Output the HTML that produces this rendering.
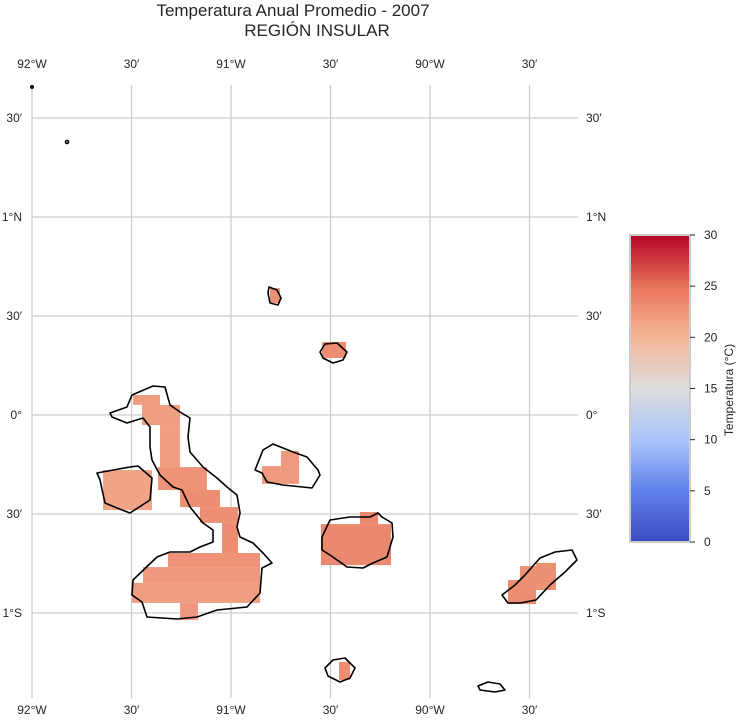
<!DOCTYPE html>
<html><head><meta charset="utf-8"><style>
body{margin:0;background:#fff;font-family:"Liberation Sans",Arial,sans-serif}
svg text{font-family:"Liberation Sans",Arial,sans-serif;fill:#262626}
</style></head><body>
<svg id="chart" width="736" height="716" xmlns="http://www.w3.org/2000/svg">
<defs>
<linearGradient id="cw" x1="0" y1="1" x2="0" y2="0">
<stop offset="0" stop-color="#3b4cc0"/><stop offset="0.17" stop-color="#6282ea"/><stop offset="0.33" stop-color="#a9c5fc"/>
<stop offset="0.5" stop-color="#dddcdc"/><stop offset="0.67" stop-color="#f5b597"/><stop offset="0.83" stop-color="#e7745b"/><stop offset="1" stop-color="#b40426"/>
</linearGradient>
</defs>
<text x="293" y="16" text-anchor="middle" font-size="17">Temperatura Anual Promedio - 2007</text>
<text x="317" y="36" text-anchor="middle" font-size="17">REGIÓN INSULAR</text>
<g id="grid"></g>
<g id="cells"></g>
<g id="coast" fill="none" stroke="#000" stroke-width="1.6" stroke-linejoin="round">
<path d="M132,395 L153,386 L165,387 L170,405 L180,412 L190,418 L188,437 L190,452 L203,467 L217,478 L227,487 L237,495 L240,513 L237,527 L240,537 L253,543 L263,553 L272,563 L262,568 L260,593 L247,607 L217,610 L197,617 L177,619 L147,617 L142,602 L132,595 L133,580 L157,557 L170,552 L190,552 L200,547 L213,542 L213,530 L203,523 L190,507 L182,490 L173,487 L160,475 L152,460 L150,447 L150,427 L143,418 L127,423 L112,417 L110,413 L127,407 Z"/>
<path d="M97,473 L130,467 L138,466 L152,478 L150,500 L130,513 L117,508 L105,503 L100,480 Z"/>
<path d="M255,470 L263,450 L273,444 L293,452 L307,457 L318,470 L320,475 L312,488 L283,485 L267,482 L262,473 Z"/>
<path d="M269,287 L277,290 L281,298 L278,305 L270,303 L268,293 Z"/>
<path d="M320,352 L325,344 L337,343 L347,352 L343,360 L333,363 L323,358 Z"/>
<path d="M322,537 L330,520 L350,517 L370,517 L378,513 L382,517 L392,523 L393,537 L387,557 L373,563 L363,568 L347,567 L340,562 L330,555 L322,550 Z"/>
<path d="M502,595 L515,585 L525,575 L540,558 L555,552 L572,550 L577,560 L565,572 L550,585 L536,600 L520,603 L508,603 Z"/>
<path d="M325,668 L333,660 L345,658 L355,668 L350,678 L340,682 L328,676 Z"/>
<path d="M478,686 L488,682 L500,684 L505,690 L495,692 L480,690 Z"/>
<circle cx="32" cy="87" r="1.2"/>
<circle cx="67" cy="142" r="1.5"/>
</g>
<g id="labels" font-size="12"></g>
<rect x="630" y="235" width="60" height="307" fill="url(#cw)" stroke="#ccc" stroke-width="2"/>
<g id="cbticks" font-size="12"></g>
<text transform="translate(733,390) rotate(-90)" text-anchor="middle" font-size="12">Temperatura (°C)</text>
</svg>
<script>
const lonTicks=[-92,-91.5,-91,-90.5,-90,-89.5];
const lonTickLabels=["92°W","30′","91°W","30′","90°W","30′"];
const latTicks=[1.5,1,0.5,0,-0.5,-1];
const latTickLabels=["30′","1°N","30′","0°","30′","1°S"];
const cbTicks=[0,5,10,15,20,25,30];
// cells: [lonMin, latMax, lonMax, latMin]
const cellBoxes=[
[-91.492,0.101,-91.357,0.051],[-91.447,0.051,-91.256,-0.051],[-91.357,-0.051,-91.256,-0.263],
[-91.367,-0.263,-91.121,-0.379],[-91.256,-0.379,-91.055,-0.465],[-91.156,-0.465,-90.965,-0.545],
[-91.045,-0.545,-90.965,-0.697],[-91.317,-0.697,-90.854,-0.768],[-91.442,-0.768,-90.854,-0.848],
[-91.497,-0.848,-90.854,-0.949],[-91.256,-0.949,-91.166,-1.035],
[-91.643,-0.278,-91.397,-0.480],
[-90.749,-0.182,-90.658,-0.348],[-90.844,-0.258,-90.749,-0.348],
[-90.804,0.641,-90.754,0.566],[-90.543,0.369,-90.422,0.288],
[-90.548,-0.551,-90.196,-0.758],[-90.352,-0.490,-90.261,-0.551],
[-89.608,-0.833,-89.467,-0.955],[-89.548,-0.763,-89.367,-0.884],[-89.467,-0.747,-89.367,-0.833],
[-90.457,-1.247,-90.402,-1.338]];
const cellTemps=[21.9,21.8,21.7,22.6,23.0,22.9,23.0,22.6,22.2,21.8,22.2,21.3,22.1,22.1,22.8,23.0,23.4,23.5,23.0,22.8,22.8,23.0];
const lon2x=l=>32+(l+92)*199, lat2y=l=>415-l*198;
const ctrl=[[0,[59,76,192]],[5,[98,130,234]],[10,[169,197,252]],[15,[221,220,220]],[20,[245,181,151]],[25,[231,116,91]],[30,[180,4,38]]];
function cmap(v){for(let i=0;i<ctrl.length-1;i++){const[a,ca]=ctrl[i],[b,cb]=ctrl[i+1];if(v<=b){const t=(v-a)/(b-a);return`rgb(${ca.map((c,k)=>Math.round(c+(cb[k]-c)*t)).join(',')})`;}}return 'rgb(180,4,38)';}
const NS='http://www.w3.org/2000/svg';
function mk(tag,attrs,parent){const e=document.createElementNS(NS,tag);for(const k in attrs)e.setAttribute(k,attrs[k]);parent.appendChild(e);return e;}
const grid=document.getElementById('grid'),cells=document.getElementById('cells'),labels=document.getElementById('labels'),cbt=document.getElementById('cbticks');
lonTicks.forEach((l,i)=>{const x=lon2x(l);
 const g=mk('line',{x1:x,x2:x,y1:85,y2:698,stroke:'#cccccc','stroke-width':1.3},grid);
 
 
 [68,714].forEach(y=>{const t=mk('text',{x:x,y:y,'text-anchor':'middle'},labels);t.textContent=lonTickLabels[i];
 
 });});
latTicks.forEach((l,i)=>{const y=lat2y(l);
 const g=mk('line',{x1:32,x2:578,y1:y,y2:y,stroke:'#cccccc','stroke-width':1.3},grid);
 
 
 const t1=mk('text',{x:22,y:y+4,'text-anchor':'end'},labels);t1.textContent=latTickLabels[i];
 
 
 const t2=mk('text',{x:586,y:y+4},labels);t2.textContent=latTickLabels[i];
 
 });
cellBoxes.forEach((b,i)=>{const x0=lon2x(b[0]),x1=lon2x(b[2]),y0=lat2y(b[1]),y1=lat2y(b[3]);
 const r=mk('rect',{x:x0,y:y0,width:x1-x0,height:y1-y0,fill:cmap(cellTemps[i])},cells);
 
 });
cbTicks.forEach(v=>{const y=542-v/30*307;
 const l=mk('line',{x1:690,x2:695,y1:y,y2:y,stroke:'#262626'},cbt);
 
 
 const t=mk('text',{x:704,y:y+4},cbt);t.textContent=v;
 
 });
</script>
</body></html>
